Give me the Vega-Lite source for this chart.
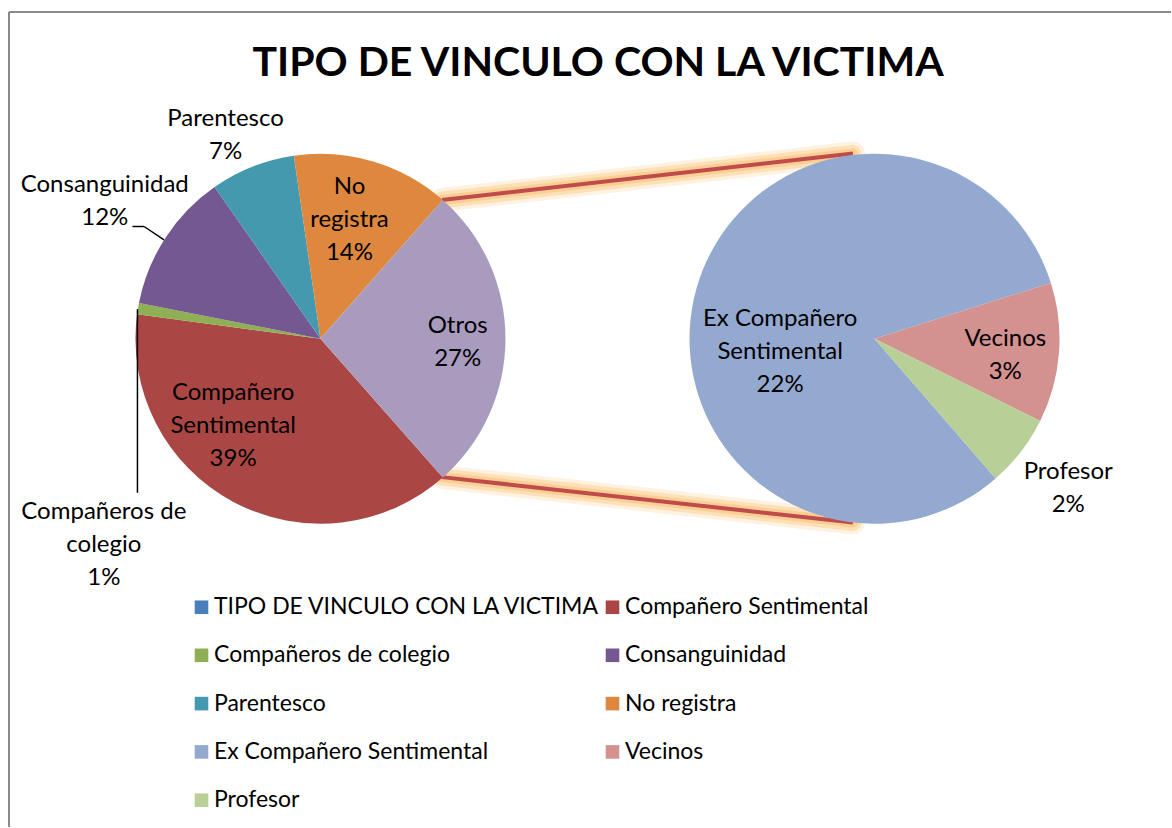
{
  "$schema": "https://vega.github.io/schema/vega-lite/v6.json",
  "width": 1172,
  "height": 828,
  "autosize": {"type": "fit", "contains": "padding"},
  "padding": {"left": 8, "top": 11, "right": 0, "bottom": 0},
  "background": "white",
  "config": {
    "view": {"stroke": null},
    "axis": {"disable": true},
    "text": {"font": "Lato", "fontSize": 24, "lineBreak": "\n", "lineHeight": 33, "align": "center", "baseline": "middle", "color": "black"}
  },
  "datasets": {
    "principal": [
      {"orden": 1, "categoria": "TIPO DE VINCULO CON LA VICTIMA", "valor": 0, "etiqueta": ""},
      {"orden": 2, "categoria": "Compañero Sentimental", "valor": 38.6, "etiqueta": "Compañero\nSentimental"},
      {"orden": 3, "categoria": "Compañeros de colegio", "valor": 1.0, "etiqueta": "Compañeros de\ncolegio"},
      {"orden": 4, "categoria": "Consanguinidad", "valor": 12.2, "etiqueta": "Consanguinidad"},
      {"orden": 5, "categoria": "Parentesco", "valor": 7.4, "etiqueta": "Parentesco"},
      {"orden": 6, "categoria": "No registra", "valor": 13.8, "etiqueta": "No\nregistra"},
      {"orden": 7, "categoria": "Otros", "valor": 27.0, "etiqueta": "Otros"}
    ],
    "secundario": [
      {"orden": 1, "categoria": "Ex Compañero Sentimental", "valor": 22.0, "etiqueta": "Ex Compañero\nSentimental"},
      {"orden": 2, "categoria": "Vecinos", "valor": 3.3, "etiqueta": "Vecinos"},
      {"orden": 3, "categoria": "Profesor", "valor": 1.7, "etiqueta": "Profesor"}
    ],
    "titulo": [{"texto": "TIPO DE VINCULO CON LA VICTIMA"}]
  },
  "resolve": {"scale": {"theta": "independent"}},
  "layer": [
    {
      "data": {"name": "titulo"},
      "mark": {"type": "rule", "color": "#898989", "strokeWidth": 2},
      "encoding": {"x": {"datum": -1.6865, "scale": {"domain": [-1.6865, 4.6054], "nice": false, "zero": false}}}
    },
    {
      "data": {"name": "titulo"},
      "mark": {"type": "rule", "color": "#898989", "strokeWidth": 2},
      "encoding": {"y": {"datum": 1.7703, "scale": {"domain": [-2.6459, 1.7703], "nice": false, "zero": false}}}
    },
    {
      "data": {"name": "titulo"},
      "encoding": {
        "x": {"datum": 0.658, "scale": {"domain": [-1.6865, 4.6054], "nice": false, "zero": false}},
        "y": {"datum": 0.752, "scale": {"domain": [-2.6459, 1.7703], "nice": false, "zero": false}},
        "x2": {"datum": 2.883},
        "y2": {"datum": 1.004}
      },
      "layer": [
        {"mark": {"type": "rule", "strokeWidth": 24, "color": "#FFF2E0", "strokeCap": "round"}, "encoding": {}},
        {"mark": {"type": "rule", "strokeWidth": 17, "color": "#FEE0B8", "strokeCap": "round"}, "encoding": {}},
        {"mark": {"type": "rule", "strokeWidth": 10, "color": "#FBCF94", "strokeCap": "round"}, "encoding": {}},
        {"mark": {"type": "rule", "strokeWidth": 4, "color": "#BF4B4A"}, "encoding": {}}
      ]
    },
    {
      "data": {"name": "titulo"},
      "encoding": {
        "x": {"datum": 0.658, "scale": {"domain": [-1.6865, 4.6054], "nice": false, "zero": false}},
        "y": {"datum": -0.75, "scale": {"domain": [-2.6459, 1.7703], "nice": false, "zero": false}},
        "x2": {"datum": 2.883},
        "y2": {"datum": -0.996}
      },
      "layer": [
        {"mark": {"type": "rule", "strokeWidth": 24, "color": "#FFF2E0", "strokeCap": "round"}, "encoding": {}},
        {"mark": {"type": "rule", "strokeWidth": 17, "color": "#FEE0B8", "strokeCap": "round"}, "encoding": {}},
        {"mark": {"type": "rule", "strokeWidth": 10, "color": "#FBCF94", "strokeCap": "round"}, "encoding": {}},
        {"mark": {"type": "rule", "strokeWidth": 4, "color": "#BF4B4A"}, "encoding": {}}
      ]
    },
    {
      "data": {"name": "principal"},
      "mark": {"type": "arc", "outerRadius": 185},
      "encoding": {
        "x": {"datum": 0, "scale": {"domain": [-1.6865, 4.6054], "nice": false, "zero": false}},
        "y": {"datum": 0, "scale": {"domain": [-2.6459, 1.7703], "nice": false, "zero": false}},
        "theta": {"field": "valor", "type": "quantitative", "stack": true, "scale": {"range": [2.419, 8.7022]}},
        "order": {"field": "orden", "type": "quantitative"},
        "color": {
          "field": "categoria",
          "type": "nominal",
          "scale": {
            "domain": ["TIPO DE VINCULO CON LA VICTIMA", "Compañero Sentimental", "Compañeros de colegio", "Consanguinidad", "Parentesco", "No registra", "Ex Compañero Sentimental", "Vecinos", "Profesor", "Otros"],
            "range": ["#4A7EBB", "#AA4643", "#8FAF55", "#745892", "#4499AF", "#DE883F", "#94A9CF", "#D39190", "#B8CF97", "#A99BBE"]
          },
          "legend": {
            "orient": "none",
            "legendX": 181,
            "legendY": 583.5,
            "columns": 2,
            "title": null,
            "padding": 0,
            "symbolType": "square",
            "symbolSize": 185,
            "symbolStrokeWidth": 0,
            "labelFont": "Lato",
            "labelFontSize": 23,
            "labelColor": "black",
            "labelLimit": 600,
            "labelOffset": 1,
            "rowPadding": 24.3,
            "columnPadding": -1,
            "values": ["TIPO DE VINCULO CON LA VICTIMA", "Compañeros de colegio", "Parentesco", "Ex Compañero Sentimental", "Profesor", "Compañero Sentimental", "Consanguinidad", "No registra", "Vecinos"]
          }
        }
      }
    },
    {
      "data": {"name": "secundario"},
      "mark": {"type": "arc", "outerRadius": 185},
      "encoding": {
        "x": {"datum": 3.0, "scale": {"domain": [-1.6865, 4.6054], "nice": false, "zero": false}},
        "y": {"datum": 0, "scale": {"domain": [-2.6459, 1.7703], "nice": false, "zero": false}},
        "theta": {"field": "valor", "type": "quantitative", "stack": true, "scale": {"range": [2.4278, 8.711]}},
        "order": {"field": "orden", "type": "quantitative"},
        "color": {"field": "categoria", "type": "nominal"}
      }
    },
    {
      "data": {"name": "titulo"},
      "encoding": {
        "x": {"datum": -1.018, "scale": {"domain": [-1.6865, 4.6054], "nice": false, "zero": false}},
        "y": {"datum": 0.608, "scale": {"domain": [-2.6459, 1.7703], "nice": false, "zero": false}},
        "x2": {"datum": -0.955},
        "y2": {"datum": 0.608}
      },
      "mark": {"type": "rule", "color": "black", "strokeWidth": 1.5}
    },
    {
      "data": {"name": "titulo"},
      "encoding": {
        "x": {"datum": -0.955, "scale": {"domain": [-1.6865, 4.6054], "nice": false, "zero": false}},
        "y": {"datum": 0.608, "scale": {"domain": [-2.6459, 1.7703], "nice": false, "zero": false}},
        "x2": {"datum": -0.847},
        "y2": {"datum": 0.536}
      },
      "mark": {"type": "rule", "color": "black", "strokeWidth": 1.5}
    },
    {
      "data": {"name": "titulo"},
      "encoding": {
        "x": {"datum": -0.991, "scale": {"domain": [-1.6865, 4.6054], "nice": false, "zero": false}},
        "y": {"datum": 0.16, "scale": {"domain": [-2.6459, 1.7703], "nice": false, "zero": false}},
        "x2": {"datum": -0.991},
        "y2": {"datum": -0.835}
      },
      "mark": {"type": "rule", "color": "black", "strokeWidth": 1.5}
    },
    {
      "data": {"name": "titulo"},
      "mark": {"type": "text", "fontSize": 41, "fontWeight": "bold", "baseline": "alphabetic"},
      "encoding": {
        "x": {"datum": 1.503, "scale": {"domain": [-1.6865, 4.6054], "nice": false, "zero": false}},
        "y": {"datum": 1.424, "scale": {"domain": [-2.6459, 1.7703], "nice": false, "zero": false}},
        "text": {"field": "texto"}
      }
    },
    {
      "data": {"name": "principal"},
      "transform": [{"filter": "datum.categoria === 'Parentesco'"}, {"calculate": "datum.etiqueta + '\\n' + format(datum.valor, '.0f') + '%'", "as": "texto"}],
      "mark": {"type": "text"},
      "encoding": {
        "x": {"datum": -0.514, "scale": {"domain": [-1.6865, 4.6054], "nice": false, "zero": false}},
        "y": {"datum": 1.192, "scale": {"domain": [-2.6459, 1.7703], "nice": false, "zero": false}},
        "text": {"field": "texto"}
      }
    },
    {
      "data": {"name": "principal"},
      "transform": [{"filter": "datum.categoria === 'Consanguinidad'"}, {"calculate": "datum.etiqueta + '\\n' + format(datum.valor, '.0f') + '%'", "as": "texto"}],
      "mark": {"type": "text"},
      "encoding": {
        "x": {"datum": -1.168, "scale": {"domain": [-1.6865, 4.6054], "nice": false, "zero": false}},
        "y": {"datum": 0.835, "scale": {"domain": [-2.6459, 1.7703], "nice": false, "zero": false}},
        "text": {"field": "texto"}
      }
    },
    {
      "data": {"name": "principal"},
      "transform": [{"filter": "datum.categoria === 'No registra'"}, {"calculate": "datum.etiqueta + '\\n' + format(datum.valor, '.0f') + '%'", "as": "texto"}],
      "mark": {"type": "text"},
      "encoding": {
        "x": {"datum": 0.157, "scale": {"domain": [-1.6865, 4.6054], "nice": false, "zero": false}},
        "y": {"datum": 0.821, "scale": {"domain": [-2.6459, 1.7703], "nice": false, "zero": false}},
        "text": {"field": "texto"}
      }
    },
    {
      "data": {"name": "principal"},
      "transform": [{"filter": "datum.categoria === 'Otros'"}, {"calculate": "datum.etiqueta + '\\n' + format(datum.valor, '.0f') + '%'", "as": "texto"}],
      "mark": {"type": "text"},
      "encoding": {
        "x": {"datum": 0.743, "scale": {"domain": [-1.6865, 4.6054], "nice": false, "zero": false}},
        "y": {"datum": 0.068, "scale": {"domain": [-2.6459, 1.7703], "nice": false, "zero": false}},
        "text": {"field": "texto"}
      }
    },
    {
      "data": {"name": "principal"},
      "transform": [{"filter": "datum.categoria === 'Compañero Sentimental'"}, {"calculate": "datum.etiqueta + '\\n' + format(datum.valor, '.0f') + '%'", "as": "texto"}],
      "mark": {"type": "text"},
      "encoding": {
        "x": {"datum": -0.473, "scale": {"domain": [-1.6865, 4.6054], "nice": false, "zero": false}},
        "y": {"datum": -0.296, "scale": {"domain": [-2.6459, 1.7703], "nice": false, "zero": false}},
        "text": {"field": "texto"}
      }
    },
    {
      "data": {"name": "principal"},
      "transform": [{"filter": "datum.categoria === 'Compañeros de colegio'"}, {"calculate": "datum.etiqueta + '\\n' + format(datum.valor, '.0f') + '%'", "as": "texto"}],
      "mark": {"type": "text"},
      "encoding": {
        "x": {"datum": -1.173, "scale": {"domain": [-1.6865, 4.6054], "nice": false, "zero": false}},
        "y": {"datum": -0.938, "scale": {"domain": [-2.6459, 1.7703], "nice": false, "zero": false}},
        "text": {"field": "texto"}
      }
    },
    {
      "data": {"name": "secundario"},
      "transform": [{"filter": "datum.categoria === 'Ex Compañero Sentimental'"}, {"calculate": "datum.etiqueta + '\\n' + format(datum.valor, '.0f') + '%'", "as": "texto"}],
      "mark": {"type": "text"},
      "encoding": {
        "x": {"datum": 2.489, "scale": {"domain": [-1.6865, 4.6054], "nice": false, "zero": false}},
        "y": {"datum": 0.109, "scale": {"domain": [-2.6459, 1.7703], "nice": false, "zero": false}},
        "text": {"field": "texto"}
      }
    },
    {
      "data": {"name": "secundario"},
      "transform": [{"filter": "datum.categoria === 'Vecinos'"}, {"calculate": "datum.etiqueta + '\\n' + format(datum.valor, '.0f') + '%'", "as": "texto"}],
      "mark": {"type": "text"},
      "encoding": {
        "x": {"datum": 3.708, "scale": {"domain": [-1.6865, 4.6054], "nice": false, "zero": false}},
        "y": {"datum": 0.001, "scale": {"domain": [-2.6459, 1.7703], "nice": false, "zero": false}},
        "text": {"field": "texto"}
      }
    },
    {
      "data": {"name": "secundario"},
      "transform": [{"filter": "datum.categoria === 'Profesor'"}, {"calculate": "datum.etiqueta + '\\n' + format(datum.valor, '.0f') + '%'", "as": "texto"}],
      "mark": {"type": "text"},
      "encoding": {
        "x": {"datum": 4.049, "scale": {"domain": [-1.6865, 4.6054], "nice": false, "zero": false}},
        "y": {"datum": -0.72, "scale": {"domain": [-2.6459, 1.7703], "nice": false, "zero": false}},
        "text": {"field": "texto"}
      }
    }
  ]
}
